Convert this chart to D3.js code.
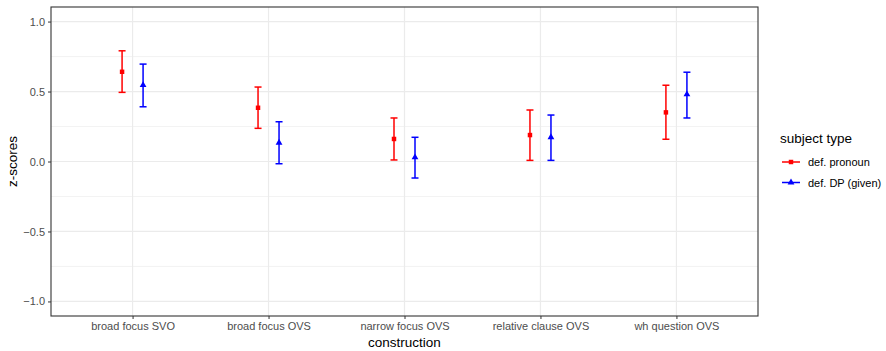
<!DOCTYPE html>
<html>
<head>
<meta charset="utf-8">
<script src="https://cdn.jsdelivr.net/npm/d3@7"></script>
<style>
  body { margin: 0; background: #fff; }
  text { font-family: "Liberation Sans", Arial, sans-serif; }
</style>
</head>
<body>
<svg id="chart" width="886" height="351"></svg>
<script>
// data
const constructions = ["broad focus SVO", "broad focus OVS", "narrow focus OVS", "relative clause OVS", "wh question OVS"];
const subjectTypes = ["def. pronoun", "def. DP (given)"];
const pronounMean = [0.641, 0.384, 0.161, 0.189, 0.351];
const pronounLow  = [0.494, 0.237, 0.011, 0.008, 0.159];
const pronounHigh = [0.791, 0.532, 0.311, 0.368, 0.545];
const dpMean = [0.546, 0.134, 0.030, 0.173, 0.480];
const dpLow  = [0.391, -0.016, -0.118, 0.008, 0.311];
const dpHigh = [0.696, 0.284, 0.173, 0.332, 0.638];
const yTicks = [-1.0, -0.5, 0.0, 0.5, 1.0];
const colors = ["#FF0000", "#0000FF"];

const rows = [];
constructions.forEach((c, i) => {
  rows.push({ c, type: subjectTypes[0], m: pronounMean[i], lo: pronounLow[i], hi: pronounHigh[i] });
  rows.push({ c, type: subjectTypes[1], m: dpMean[i], lo: dpLow[i], hi: dpHigh[i] });
});

// layout
const margin = { top: 7, right: 128, bottom: 35, left: 51 };
const W = 886, H = 351;
const svg = d3.select("#chart");

const x = d3.scalePoint()
  .domain(constructions)
  .range([margin.left, W - margin.right])
  .padding(0.6);
const dodge = d3.scalePoint().domain(subjectTypes).range([-10.5, 10.5]);
const y = d3.scaleLinear().domain([-1.104, 1.104]).range([H - margin.bottom, margin.top]);
const color = d3.scaleOrdinal().domain(subjectTypes).range(colors);

// grid
const grid = svg.append("g");
const minor = [-0.75, -0.25, 0.25, 0.75];
grid.selectAll(".minor").data(minor).join("line")
  .attr("x1", margin.left).attr("x2", W - margin.right)
  .attr("y1", d => y(d)).attr("y2", d => y(d))
  .attr("stroke", "#ebebeb").attr("stroke-width", 0.6);
grid.selectAll(".major").data(yTicks).join("line")
  .attr("x1", margin.left).attr("x2", W - margin.right)
  .attr("y1", d => y(d)).attr("y2", d => y(d))
  .attr("stroke", "#ebebeb").attr("stroke-width", 1.2);
grid.selectAll(".vmajor").data(constructions).join("line")
  .attr("x1", d => x(d)).attr("x2", d => x(d))
  .attr("y1", margin.top).attr("y2", H - margin.bottom)
  .attr("stroke", "#ebebeb").attr("stroke-width", 1.2);

// axes
const yAxis = svg.append("g")
  .attr("transform", `translate(${margin.left},0)`)
  .call(d3.axisLeft(y).tickValues(yTicks).tickFormat(d3.format(".1f")).tickSize(3).tickPadding(3));
const xAxis = svg.append("g")
  .attr("transform", `translate(0,${H - margin.bottom})`)
  .call(d3.axisBottom(x).tickSize(3).tickPadding(3));
[xAxis, yAxis].forEach(g => {
  g.select(".domain").remove();
  g.selectAll(".tick line").attr("stroke", "#333");
  g.selectAll(".tick text").attr("fill", "#4d4d4d").style("font-size", "11px")
    .style("font-family", "Liberation Sans, Arial, sans-serif");
});
yAxis.selectAll(".tick text").text(d => d < 0 ? "\u2212" + d3.format(".1f")(-d) : d3.format(".1f")(d));

// panel border
svg.append("rect")
  .attr("x", margin.left).attr("y", margin.top)
  .attr("width", W - margin.right - margin.left)
  .attr("height", H - margin.bottom - margin.top)
  .attr("fill", "none").attr("stroke", "#333").attr("stroke-width", 1.1);

// error bars
const bars = svg.append("g").selectAll("g").data(rows).join("g")
  .attr("transform", d => `translate(${x(d.c) + dodge(d.type)},0)`)
  .attr("stroke", d => color(d.type)).attr("stroke-width", 1.5);
bars.append("line").attr("y1", d => y(d.lo)).attr("y2", d => y(d.hi));
bars.append("line").attr("x1", -3.5).attr("x2", 3.5).attr("y1", d => y(d.lo)).attr("y2", d => y(d.lo));
bars.append("line").attr("x1", -3.5).attr("x2", 3.5).attr("y1", d => y(d.hi)).attr("y2", d => y(d.hi));

const sym = d3.scaleOrdinal().domain(subjectTypes).range([d3.symbolSquare, d3.symbolTriangle]);
svg.append("g").selectAll("path").data(rows).join("path")
  .attr("transform", d => `translate(${x(d.c) + dodge(d.type)},${y(d.m)})`)
  .attr("d", d => d3.symbol().type(sym(d.type)).size(d.type === subjectTypes[0] ? 20 : 20)())
  .attr("fill", d => color(d.type));

// axis titles
svg.append("text")
  .attr("x", (margin.left + W - margin.right) / 2).attr("y", 347)
  .attr("text-anchor", "middle").style("font-size", "13.5px").attr("fill", "#000")
  .text("construction");
svg.append("text")
  .attr("transform", `translate(17,${y(0)}) rotate(-90)`)
  .attr("text-anchor", "middle").style("font-size", "13.5px").attr("fill", "#000")
  .text("z-scores");

// legend
const legend = svg.append("g").attr("transform", "translate(780,0)");
legend.append("text").attr("x", 0).attr("y", 143).style("font-size", "13.5px").text("subject type");
const items = legend.selectAll(".item").data(subjectTypes).join("g")
  .attr("transform", (d, i) => `translate(0,${162 + i * 20.5})`);
items.append("line").attr("x1", 2).attr("x2", 20)
  .attr("stroke", d => color(d)).attr("stroke-width", 1.5);
items.append("path")
  .attr("transform", "translate(11,0)")
  .attr("d", d => d3.symbol().type(sym(d)).size(20)())
  .attr("fill", d => color(d));
items.append("text").attr("x", 28).attr("y", 4).style("font-size", "11px").attr("fill", "#000").text(d => d);
</script>
</body>
</html>
